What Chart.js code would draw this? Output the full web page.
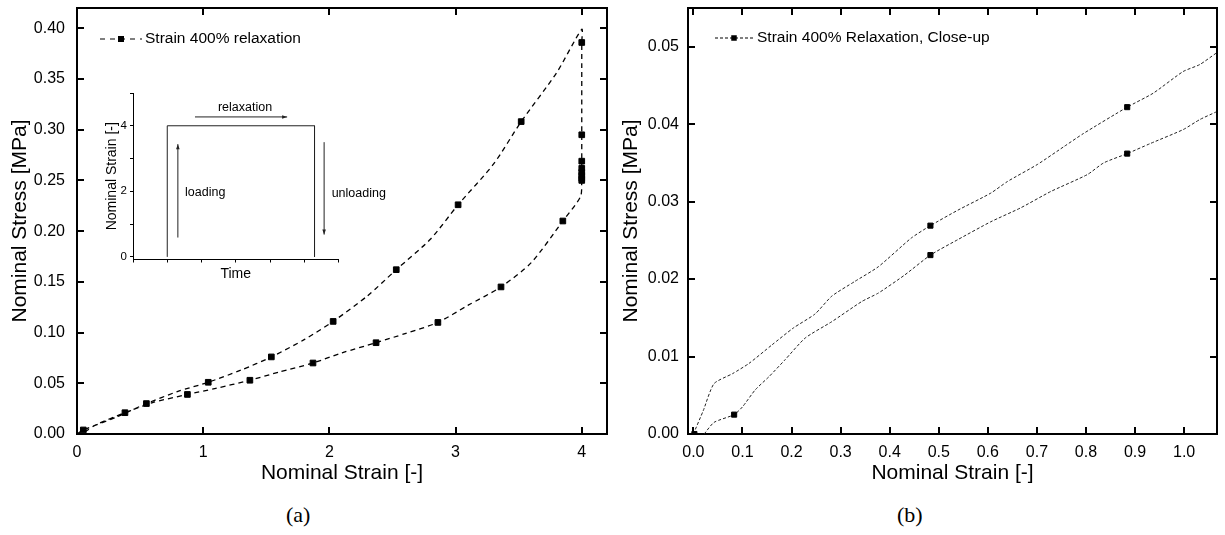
<!DOCTYPE html>
<html>
<head>
<meta charset="utf-8">
<script src="https://cdn.jsdelivr.net/npm/chart.js@4.4.0/dist/chart.umd.min.js"></script>
<style>
    html, body { margin: 0; padding: 0; background: #fff; }
    body { width: 1225px; height: 535px; position: relative; overflow: hidden; }
    .box { position: absolute; }
    .caption { position: absolute; font-family: 'Liberation Serif', 'Times New Roman', serif; font-size: 22px; line-height: 1; color: #000; }
</style>
</head>
<body>
<div class="box" style="left:0;top:0;width:612px;height:495px"><canvas id="chartA"></canvas></div>
<div class="box" style="left:90px;top:85px;width:300px;height:200px"><canvas id="insetChart"></canvas></div>
<div class="box" style="left:612px;top:0;width:613px;height:495px"><canvas id="chartB"></canvas></div>
<div class="caption" style="left:286px;top:504px">(a)</div>
<div class="caption" style="left:897px;top:504px">(b)</div>
<script>
// (a) full cycle: loading -> relaxation at 400% -> unloading
const strainA = [0, 0.05, 0.3, 0.55, 0.8, 1.04, 1.3, 1.54, 1.8, 2.03, 2.3, 2.53, 2.8, 3.02, 3.3, 3.52, 3.8, 4.0,
    4.0, 4.0, 4.0, 4.0, 4.0, 4.0, 4.0, 4.0,
    3.99, 3.85, 3.6, 3.36, 3.1, 2.86, 2.6, 2.37, 2.1, 1.87, 1.6, 1.37, 1.1, 0.875, 0.6, 0.38, 0.15, 0.05];
const stressA = [0, 0.004, 0.016, 0.030, 0.042, 0.051, 0.063, 0.076, 0.093, 0.111, 0.136, 0.162, 0.192, 0.226, 0.266, 0.308, 0.356, 0.399,
    0.386, 0.295, 0.269, 0.262, 0.258, 0.255, 0.252, 0.250,
    0.234, 0.210, 0.169, 0.145, 0.127, 0.110, 0.099, 0.090, 0.080, 0.070, 0.061, 0.053, 0.045, 0.039, 0.031, 0.021, 0.009, 0.001];
const markStrainA = [0.05, 0.55, 1.04, 1.54, 2.03, 2.53, 3.02, 3.52, 4.0, 4.0, 4.0, 4.0, 4.0, 4.0, 4.0, 4.0,
    3.85, 3.36, 2.86, 2.37, 1.87, 1.37, 0.875, 0.38];
const markStressA = [0.004, 0.030, 0.051, 0.076, 0.111, 0.162, 0.226, 0.308, 0.386, 0.295, 0.269, 0.262, 0.258, 0.255, 0.252, 0.250,
    0.210, 0.145, 0.110, 0.090, 0.070, 0.053, 0.039, 0.021];
const strainTicksA = [0, 1, 2, 3, 4];
const stressTicksA = [0, 0.05, 0.10, 0.15, 0.20, 0.25, 0.30, 0.35, 0.40];

// (b) close-up of the first 100% strain
const upStrainB = [0, 0.02, 0.042, 0.08, 0.113, 0.16, 0.204, 0.248, 0.282, 0.329, 0.377, 0.444, 0.483, 0.539, 0.606, 0.640,
    0.701, 0.755, 0.795, 0.884, 0.937, 0.998, 1.032, 1.066, 1.08];
const upStressB = [0, 0.003, 0.0065, 0.0078, 0.0091, 0.0115, 0.0137, 0.0155, 0.0178, 0.0197, 0.0216, 0.0253, 0.0269, 0.0289, 0.0311, 0.0326,
    0.0348, 0.0371, 0.0388, 0.0422, 0.0440, 0.0468, 0.0477, 0.0492, 0.0497];
const downStrainB = [0.022, 0.042, 0.083, 0.1, 0.126, 0.154, 0.187, 0.228, 0.282, 0.343, 0.377, 0.430, 0.483, 0.539, 0.606, 0.667,
    0.728, 0.803, 0.836, 0.884, 0.931, 0.998, 1.032, 1.066, 1.08];
const downStressB = [0, 0.0015, 0.0025, 0.0035, 0.0057, 0.0074, 0.0096, 0.0124, 0.0145, 0.0171, 0.0182, 0.0205, 0.0231, 0.0251, 0.0274, 0.0292,
    0.0313, 0.0335, 0.0350, 0.0362, 0.0375, 0.0393, 0.0406, 0.0416, 0.0420];
const markStrainB = [0.002, 0.483, 0.884, 0.083, 0.483, 0.884];
const markStressB = [0, 0.0269, 0.0422, 0.0025, 0.0231, 0.0362];
const strainTicksB = [0.0, 0.1, 0.2, 0.3, 0.4, 0.5, 0.6, 0.7, 0.8, 0.9, 1.0];
const stressTicksB = [0, 0.01, 0.02, 0.03, 0.04, 0.05];

// inset: strain history
const insetTime = [1, 1, 5.3, 5.3];
const insetStrain = [0, 4, 4, 0];
const insetTimeTicks = [0, 1, 2, 3, 4, 5, 6];
const insetStrainTicks = [0, 1, 2, 3, 4, 5];
const arrowNames = ['relaxation', 'loading', 'unloading'];
const arrowFrom = [[1.81, 4.27], [1.31, 0.59], [5.58, 3.5]];
const arrowTo = [[4.5, 4.27], [1.31, 3.44], [5.58, 0.68]];
const noteAt = [[3.27, 4.57], [1.52, 1.95], [5.8, 1.93]];
const noteAlign = ['center', 'left', 'left'];

const FONT = "'Liberation Sans', Arial, Helvetica, sans-serif";
Chart.defaults.font.family = FONT;
Chart.defaults.color = '#000';

const pts = (xs, ys) => xs.map((x, i) => ({ x, y: ys[i] }));

// box frame with inward ticks on all four sides
const frameTicks = {
    id: 'frameTicks',
    afterDraw(chart, args, opts) {
        const { ctx, chartArea: a, scales: { x, y } } = chart;
        const len = opts.len || 7;
        ctx.save();
        ctx.strokeStyle = '#000';
        ctx.lineWidth = 2;
        ctx.beginPath();
        ctx.moveTo(a.left, a.top);
        ctx.lineTo(a.right, a.top);
        ctx.lineTo(a.right, a.bottom);
        ctx.stroke();
        ctx.beginPath();
        x.ticks.forEach(t => {
            const px = Math.round(x.getPixelForValue(t.value));
            ctx.moveTo(px, a.bottom); ctx.lineTo(px, a.bottom - len);
            ctx.moveTo(px, a.top); ctx.lineTo(px, a.top + len);
        });
        y.ticks.forEach(t => {
            const py = Math.round(y.getPixelForValue(t.value));
            ctx.moveTo(a.left, py); ctx.lineTo(a.left + len, py);
            ctx.moveTo(a.right, py); ctx.lineTo(a.right - len, py);
        });
        ctx.stroke();
        ctx.restore();
    }
};

// legend sample: dashed line with a square marker, then the dataset label
const lineLegend = {
    id: 'lineLegend',
    afterDraw(chart, args, o) {
        const ctx = chart.ctx;
        const mx = (o.x0 + o.x1) / 2;
        ctx.save();
        ctx.strokeStyle = '#000';
        ctx.lineWidth = o.lineWidth;
        ctx.setLineDash(o.dash);
        ctx.beginPath();
        ctx.moveTo(o.x0, o.y);
        ctx.lineTo(o.x1, o.y);
        ctx.stroke();
        ctx.setLineDash([]);
        ctx.fillStyle = '#000';
        ctx.fillRect(mx - o.size / 2, o.y - o.size / 2, o.size, o.size);
        ctx.font = '15.5px ' + FONT;
        ctx.textBaseline = 'middle';
        ctx.fillText(chart.data.datasets[1].label, o.x1 + o.gap, o.y);
        ctx.restore();
    }
};

// arrows + notes in the inset
const insetNotes = {
    id: 'insetNotes',
    afterDraw(chart) {
        const { ctx, scales: { x, y } } = chart;
        ctx.save();
        ctx.strokeStyle = '#222';
        ctx.fillStyle = '#222';
        ctx.lineWidth = 1;
        arrowFrom.forEach((f, i) => {
            const x0 = x.getPixelForValue(f[0]), y0 = y.getPixelForValue(f[1]);
            const x1 = x.getPixelForValue(arrowTo[i][0]), y1 = y.getPixelForValue(arrowTo[i][1]);
            const ang = Math.atan2(y1 - y0, x1 - x0);
            ctx.beginPath();
            ctx.moveTo(x0, y0);
            ctx.lineTo(x1, y1);
            ctx.stroke();
            ctx.beginPath();
            ctx.moveTo(x1, y1);
            ctx.lineTo(x1 - 5 * Math.cos(ang) + 1.8 * Math.sin(ang), y1 - 5 * Math.sin(ang) - 1.8 * Math.cos(ang));
            ctx.lineTo(x1 - 5 * Math.cos(ang) - 1.8 * Math.sin(ang), y1 - 5 * Math.sin(ang) + 1.8 * Math.cos(ang));
            ctx.closePath();
            ctx.fill();
        });
        ctx.fillStyle = '#000';
        ctx.font = '12.5px ' + FONT;
        ctx.textBaseline = 'middle';
        noteAt.forEach((p, i) => {
            ctx.textAlign = noteAlign[i];
            ctx.fillText(arrowNames[i], x.getPixelForValue(p[0]), y.getPixelForValue(p[1]));
        });
        ctx.restore();
    }
};

function mainScales(cfg) {
    return {
        x: {
            type: 'linear',
            min: cfg.xMin, max: cfg.xMax,
            afterBuildTicks: s => { s.ticks = cfg.xTicks.map(v => ({ value: v })); },
            afterFit: s => { s.height = 61; s.paddingLeft = 0; s.paddingRight = 0; },
            grid: { display: false, drawTicks: false },
            border: { display: true, color: '#000', width: 2 },
            ticks: { autoSkip: false, maxRotation: 0, padding: 9, font: { size: 16 }, callback: v => v.toFixed(cfg.xDec) },
            title: { display: true, text: 'Nominal Strain [-]', font: { size: 21 }, padding: { top: 0, bottom: 9.4 } }
        },
        y: {
            type: 'linear',
            min: cfg.yMin, max: cfg.yMax,
            afterBuildTicks: s => { s.ticks = cfg.yTicks.map(v => ({ value: v })); },
            afterFit: s => { s.width = cfg.yWidth; s.paddingTop = 0; s.paddingBottom = 0; },
            grid: { display: false, drawTicks: false },
            border: { display: true, color: '#000', width: 2 },
            ticks: { autoSkip: false, padding: cfg.yPad, font: { size: 16 }, callback: v => v.toFixed(2) },
            title: { display: true, text: 'Nominal Stress [MPa]', font: { size: 21 }, padding: { top: cfg.titlePad, bottom: 0 } }
        }
    };
}

new Chart(document.getElementById('chartA'), {
    type: 'line',
    data: {
        datasets: [{
            label: 'Strain 400% relaxation',
            data: pts(markStrainA, markStressA),
            showLine: false,
            pointStyle: 'rect',
            pointRadius: 4,
            pointBackgroundColor: '#000',
            pointBorderColor: '#000',
            pointBorderWidth: 1
        }, {
            label: 'Strain 400% relaxation',
            data: pts(strainA, stressA),
            borderColor: '#000',
            borderWidth: 1.3,
            borderDash: [5, 4],
            pointRadius: 0,
            tension: 0.25,
            fill: false
        }]
    },
    options: {
        responsive: true,
        maintainAspectRatio: false,
        animation: false,
        events: [],
        layout: { padding: { top: 8, right: 5, left: 0, bottom: 0 } },
        plugins: {
            legend: { display: false },
            tooltip: { enabled: false },
            frameTicks: { len: 7 },
            lineLegend: { x0: 100, x1: 142, y: 39, gap: 3, size: 6, lineWidth: 1.2, dash: [5, 5] }
        },
        scales: mainScales({ xMin: 0, xMax: 4.2, xTicks: strainTicksA, xDec: 0, yMin: 0, yMax: 0.42, yTicks: stressTicksA, yWidth: 77, yPad: 12, titlePad: 7.4 })
    },
    plugins: [frameTicks, lineLegend]
});

new Chart(document.getElementById('insetChart'), {
    type: 'line',
    data: {
        datasets: [{
            data: pts(insetTime, insetStrain),
            borderColor: '#222',
            borderWidth: 1,
            pointRadius: 0,
            tension: 0,
            fill: false
        }]
    },
    options: {
        responsive: true,
        maintainAspectRatio: false,
        animation: false,
        events: [],
        layout: { padding: { top: 8, right: 51.5, left: 0, bottom: 0 } },
        plugins: { legend: { display: false }, tooltip: { enabled: false } },
        scales: {
            x: {
                type: 'linear',
                min: 0, max: 6,
                afterBuildTicks: s => { s.ticks = insetTimeTicks.map(v => ({ value: v })); },
                afterFit: s => { s.height = 25.5; s.paddingLeft = 0; s.paddingRight = 0; },
                grid: { drawOnChartArea: false, drawTicks: true, tickLength: 3, color: '#000', lineWidth: 1 },
                border: { display: true, color: '#000', width: 1 },
                ticks: { display: false },
                title: { display: true, text: 'Time', font: { size: 14 }, padding: { top: 0, bottom: 2.6 } }
            },
            y: {
                type: 'linear',
                min: -0.08, max: 5,
                afterBuildTicks: s => { s.ticks = insetStrainTicks.map(v => ({ value: v })); },
                afterFit: s => { s.width = 43; s.paddingTop = 0; s.paddingBottom = 0; },
                grid: { drawOnChartArea: false, drawTicks: true, tickLength: 3, color: '#000', lineWidth: 1 },
                border: { display: true, color: '#000', width: 1 },
                ticks: { autoSkip: false, padding: 3, font: { size: 11.5 }, callback: v => (v % 2 === 0 && v < 5 ? String(v) : '') },
                title: { display: true, text: 'Nominal Strain [-]', font: { size: 14 }, padding: { top: 13.5, bottom: 0 } }
            }
        }
    },
    plugins: [insetNotes]
});

new Chart(document.getElementById('chartB'), {
    type: 'line',
    data: {
        datasets: [{
            label: 'Strain 400% Relaxation, Close-up',
            data: pts(markStrainB, markStressB),
            showLine: false,
            pointStyle: 'rect',
            pointRadius: 3.6,
            pointBackgroundColor: '#000',
            pointBorderColor: '#000',
            pointBorderWidth: 1,
            clip: 0
        }, {
            label: 'Strain 400% Relaxation, Close-up',
            data: pts(upStrainB, upStressB),
            borderColor: '#222',
            borderWidth: 1,
            borderDash: [3, 2],
            pointRadius: 0,
            tension: 0.2,
            fill: false
        }, {
            label: 'unloading',
            data: pts(downStrainB, downStressB),
            borderColor: '#222',
            borderWidth: 1,
            borderDash: [3, 2],
            pointRadius: 0,
            tension: 0.2,
            fill: false
        }]
    },
    options: {
        responsive: true,
        maintainAspectRatio: false,
        animation: false,
        events: [],
        layout: { padding: { top: 8, right: 8, left: 0, bottom: 0 } },
        plugins: {
            legend: { display: false },
            tooltip: { enabled: false },
            frameTicks: { len: 7 },
            lineLegend: { x0: 103, x1: 141, y: 38, gap: 4, size: 5.5, lineWidth: 1, dash: [3, 2] }
        },
        scales: mainScales({ xMin: -0.011, xMax: 1.067, xTicks: strainTicksB, xDec: 1, yMin: 0, yMax: 0.055, yTicks: stressTicksB, yWidth: 76, yPad: 9, titlePad: 6.9 })
    },
    plugins: [frameTicks, lineLegend]
});
</script>
</body>
</html>
